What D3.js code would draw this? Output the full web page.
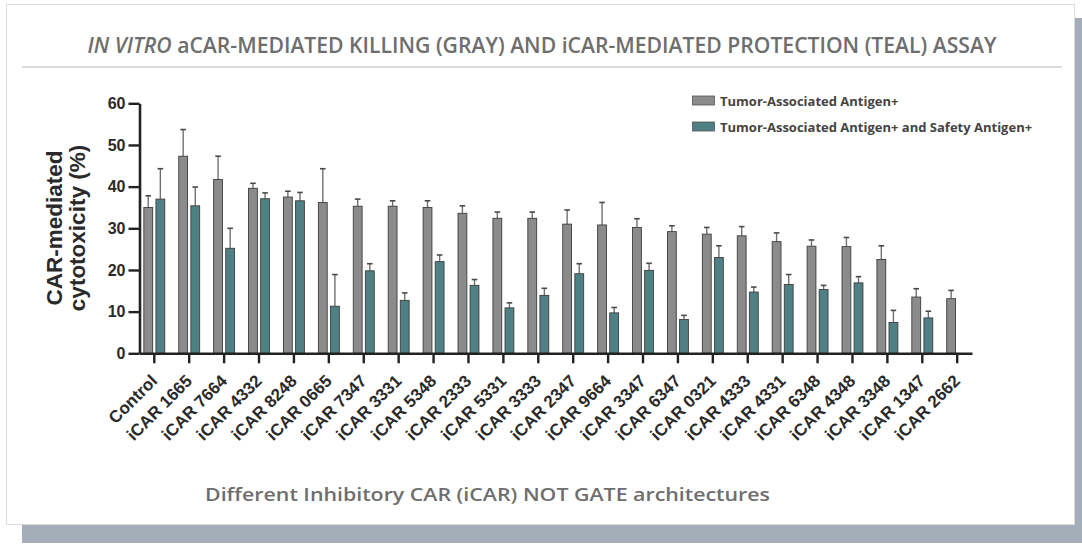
<!DOCTYPE html>
<html>
<head>
<meta charset="utf-8">
<script src="https://cdn.jsdelivr.net/npm/d3@7"></script>
<style>
  html, body { margin: 0; padding: 0; background: #ffffff; }
  svg { display: block; }
</style>
</head>
<body>
<svg id="chart" width="1082" height="545"></svg>
<script>
// Cytotoxicity per construct: mean and upper error (SD), in %
const categories = ["Control", "iCAR 1665", "iCAR 7664", "iCAR 4332", "iCAR 8248", "iCAR 0665",
  "iCAR 7347", "iCAR 3331", "iCAR 5348", "iCAR 2333", "iCAR 5331", "iCAR 3333", "iCAR 2347",
  "iCAR 9664", "iCAR 3347", "iCAR 6347", "iCAR 0321", "iCAR 4333", "iCAR 4331", "iCAR 6348",
  "iCAR 4348", "iCAR 3348", "iCAR 1347", "iCAR 2662"];
const tumorMean = [35.0, 47.3, 41.7, 39.6, 37.5, 36.2, 35.3, 35.3, 35.0, 33.6, 32.4, 32.4, 31.0,
  30.8, 30.2, 29.2, 28.6, 28.2, 26.8, 25.7, 25.6, 22.5, 13.5, 13.1];
const tumorErr = [2.8, 6.4, 5.6, 1.2, 1.4, 8.1, 1.7, 1.3, 1.6, 1.8, 1.5, 1.5, 3.4,
  5.4, 2.1, 1.4, 1.6, 2.2, 2.1, 1.5, 2.2, 3.3, 2.0, 2.0];
const safetyMean = [37.0, 35.4, 25.2, 37.1, 36.6, 11.3, 19.8, 12.7, 22.0, 16.3, 10.9, 13.9, 19.1,
  9.7, 19.9, 8.1, 23.0, 14.7, 16.5, 15.3, 16.9, 7.4, 8.5, null];
const safetyErr = [7.3, 4.5, 4.8, 1.4, 2.0, 7.6, 1.7, 1.8, 1.6, 1.4, 1.2, 1.7, 2.4,
  1.3, 1.7, 1.0, 2.8, 1.2, 2.4, 1.0, 1.5, 2.9, 1.6, null];
const seriesNames = ["Tumor-Associated Antigen+", "Tumor-Associated Antigen+ and Safety Antigen+"];
const yTicks = [0, 10, 20, 30, 40, 50, 60];

const colors = { tumor: "#8b8b8b", safety: "#4f8083" };
const svg = d3.select("#chart");

// Card with drop shadow
svg.append("rect").attr("x", 22).attr("y", 18).attr("width", 1060).attr("height", 525).attr("fill", "#a4aeb9");
svg.append("rect").attr("x", 6.5).attr("y", 4.5).attr("width", 1068).attr("height", 520)
  .attr("fill", "#ffffff").attr("stroke", "#dcdcdc").attr("stroke-width", 1);

// Title
const title = svg.append("text")
  .attr("x", 542).attr("y", 53).attr("text-anchor", "middle")
  .attr("font-family", "'Open Sans', sans-serif").attr("font-weight", 600)
  .attr("font-size", 21).attr("fill", "#6e6e6e")
  .attr("textLength", 909).attr("lengthAdjust", "spacingAndGlyphs");
title.append("tspan").attr("font-style", "italic").text("IN VITRO");
title.append("tspan").text(" aCAR-MEDIATED KILLING (GRAY) AND iCAR-MEDIATED PROTECTION (TEAL) ASSAY");
svg.append("line").attr("x1", 22).attr("x2", 1062).attr("y1", 67).attr("y2", 67)
  .attr("stroke", "#cfcfcf").attr("stroke-width", 1.5);

// Scales
const x = d3.scaleBand().domain(categories).range([139.5, 972]).paddingInner(0.4).paddingOuter(0.124);
const sub = d3.scaleBand().domain(["tumor", "safety"]).range([0, x.bandwidth()]).paddingInner(0.27);
const y = d3.scaleLinear().domain([0, 60]).range([353.3, 103.3]);

const rows = categories.map((c, i) => ({
  cat: c,
  vals: [
    { key: "tumor", v: tumorMean[i], e: tumorErr[i] },
    { key: "safety", v: safetyMean[i], e: safetyErr[i] }
  ].filter(d => d.v != null)
}));

const groups = svg.append("g").selectAll("g").data(rows).join("g")
  .attr("transform", d => `translate(${x(d.cat)},0)`);

// Error bars (upper only)
const eb = groups.selectAll("g.err").data(d => d.vals).join("g").attr("class", "err");
eb.append("line")
  .attr("x1", d => sub(d.key) + sub.bandwidth() / 2).attr("x2", d => sub(d.key) + sub.bandwidth() / 2)
  .attr("y1", d => y(d.v)).attr("y2", d => y(d.v + d.e))
  .attr("stroke", "#707070").attr("stroke-width", 1.4);
eb.append("line")
  .attr("x1", d => sub(d.key) + sub.bandwidth() / 2 - 2.8).attr("x2", d => sub(d.key) + sub.bandwidth() / 2 + 2.8)
  .attr("y1", d => y(d.v + d.e)).attr("y2", d => y(d.v + d.e))
  .attr("stroke", "#4a4a4a").attr("stroke-width", 1.6);

// Bars
groups.selectAll("rect").data(d => d.vals).join("rect")
  .attr("x", d => sub(d.key)).attr("width", sub.bandwidth())
  .attr("y", d => y(d.v)).attr("height", d => y(0) - y(d.v))
  .attr("fill", d => colors[d.key]).attr("stroke", "#3d3d3d").attr("stroke-width", 0.9);

// Axes
const yAxis = svg.append("g").attr("transform", "translate(139.5,0)")
  .call(d3.axisLeft(y).tickValues(yTicks).tickSize(11).tickSizeOuter(0).tickPadding(3));
const xAxis = svg.append("g").attr("transform", `translate(0,${y(0)})`)
  .call(d3.axisBottom(x).tickSize(10).tickSizeOuter(0).tickFormat(""));
[yAxis, xAxis].forEach(a => {
  a.select(".domain").attr("stroke", "#222").attr("stroke-width", 2.6);
  a.selectAll(".tick line").attr("stroke", "#222").attr("stroke-width", 2.4);
});
yAxis.selectAll(".tick text")
  .attr("font-family", "'Liberation Sans', Arial, sans-serif").attr("font-weight", "bold")
  .attr("font-size", 16).attr("fill", "#2a2a2a");

// Rotated category labels
svg.append("g").selectAll("text").data(categories).join("text")
  .attr("transform", d => `translate(${x(d) + x.bandwidth() / 2 + 4},382) rotate(-45)`)
  .attr("text-anchor", "end")
  .attr("font-family", "'Liberation Sans', Arial, sans-serif").attr("font-weight", "bold")
  .attr("font-size", 17).attr("fill", "#2a2a2a")
  .text(d => d);

// Y axis title
const yt = svg.append("text")
  .attr("transform", "translate(62,228) rotate(-90)").attr("text-anchor", "middle")
  .attr("font-family", "'Liberation Sans', Arial, sans-serif").attr("font-weight", "bold")
  .attr("font-size", 22.5).attr("fill", "#2a2a2a");
yt.append("tspan").attr("x", 0).attr("y", 0).text("CAR-mediated");
yt.append("tspan").attr("x", 0).attr("y", 23).text("cytotoxicity (%)");

// X axis title
svg.append("text")
  .attr("x", 487.5).attr("y", 501).attr("text-anchor", "middle")
  .attr("font-family", "'Open Sans', sans-serif").attr("font-weight", 600)
  .attr("font-size", 18).attr("fill", "#6e6e6e")
  .attr("textLength", 565).attr("lengthAdjust", "spacingAndGlyphs")
  .text("Different Inhibitory CAR (iCAR) NOT GATE architectures");

// Legend
const legend = svg.append("g").attr("transform", "translate(692,96)");
const li = legend.selectAll("g").data(seriesNames).join("g")
  .attr("transform", (d, i) => `translate(0,${i * 26})`);
li.append("rect").attr("x", 0.5).attr("y", 0).attr("width", 22).attr("height", 9)
  .attr("fill", (d, i) => i === 0 ? colors.tumor : colors.safety)
  .attr("stroke", "#555").attr("stroke-width", 0.8);
li.append("text").attr("x", 28).attr("y", 9.5)
  .attr("font-family", "'Open Sans', sans-serif").attr("font-weight", "bold")
  .attr("font-size", 13).attr("fill", "#444444")
  .text(d => d);
</script>
</body>
</html>
